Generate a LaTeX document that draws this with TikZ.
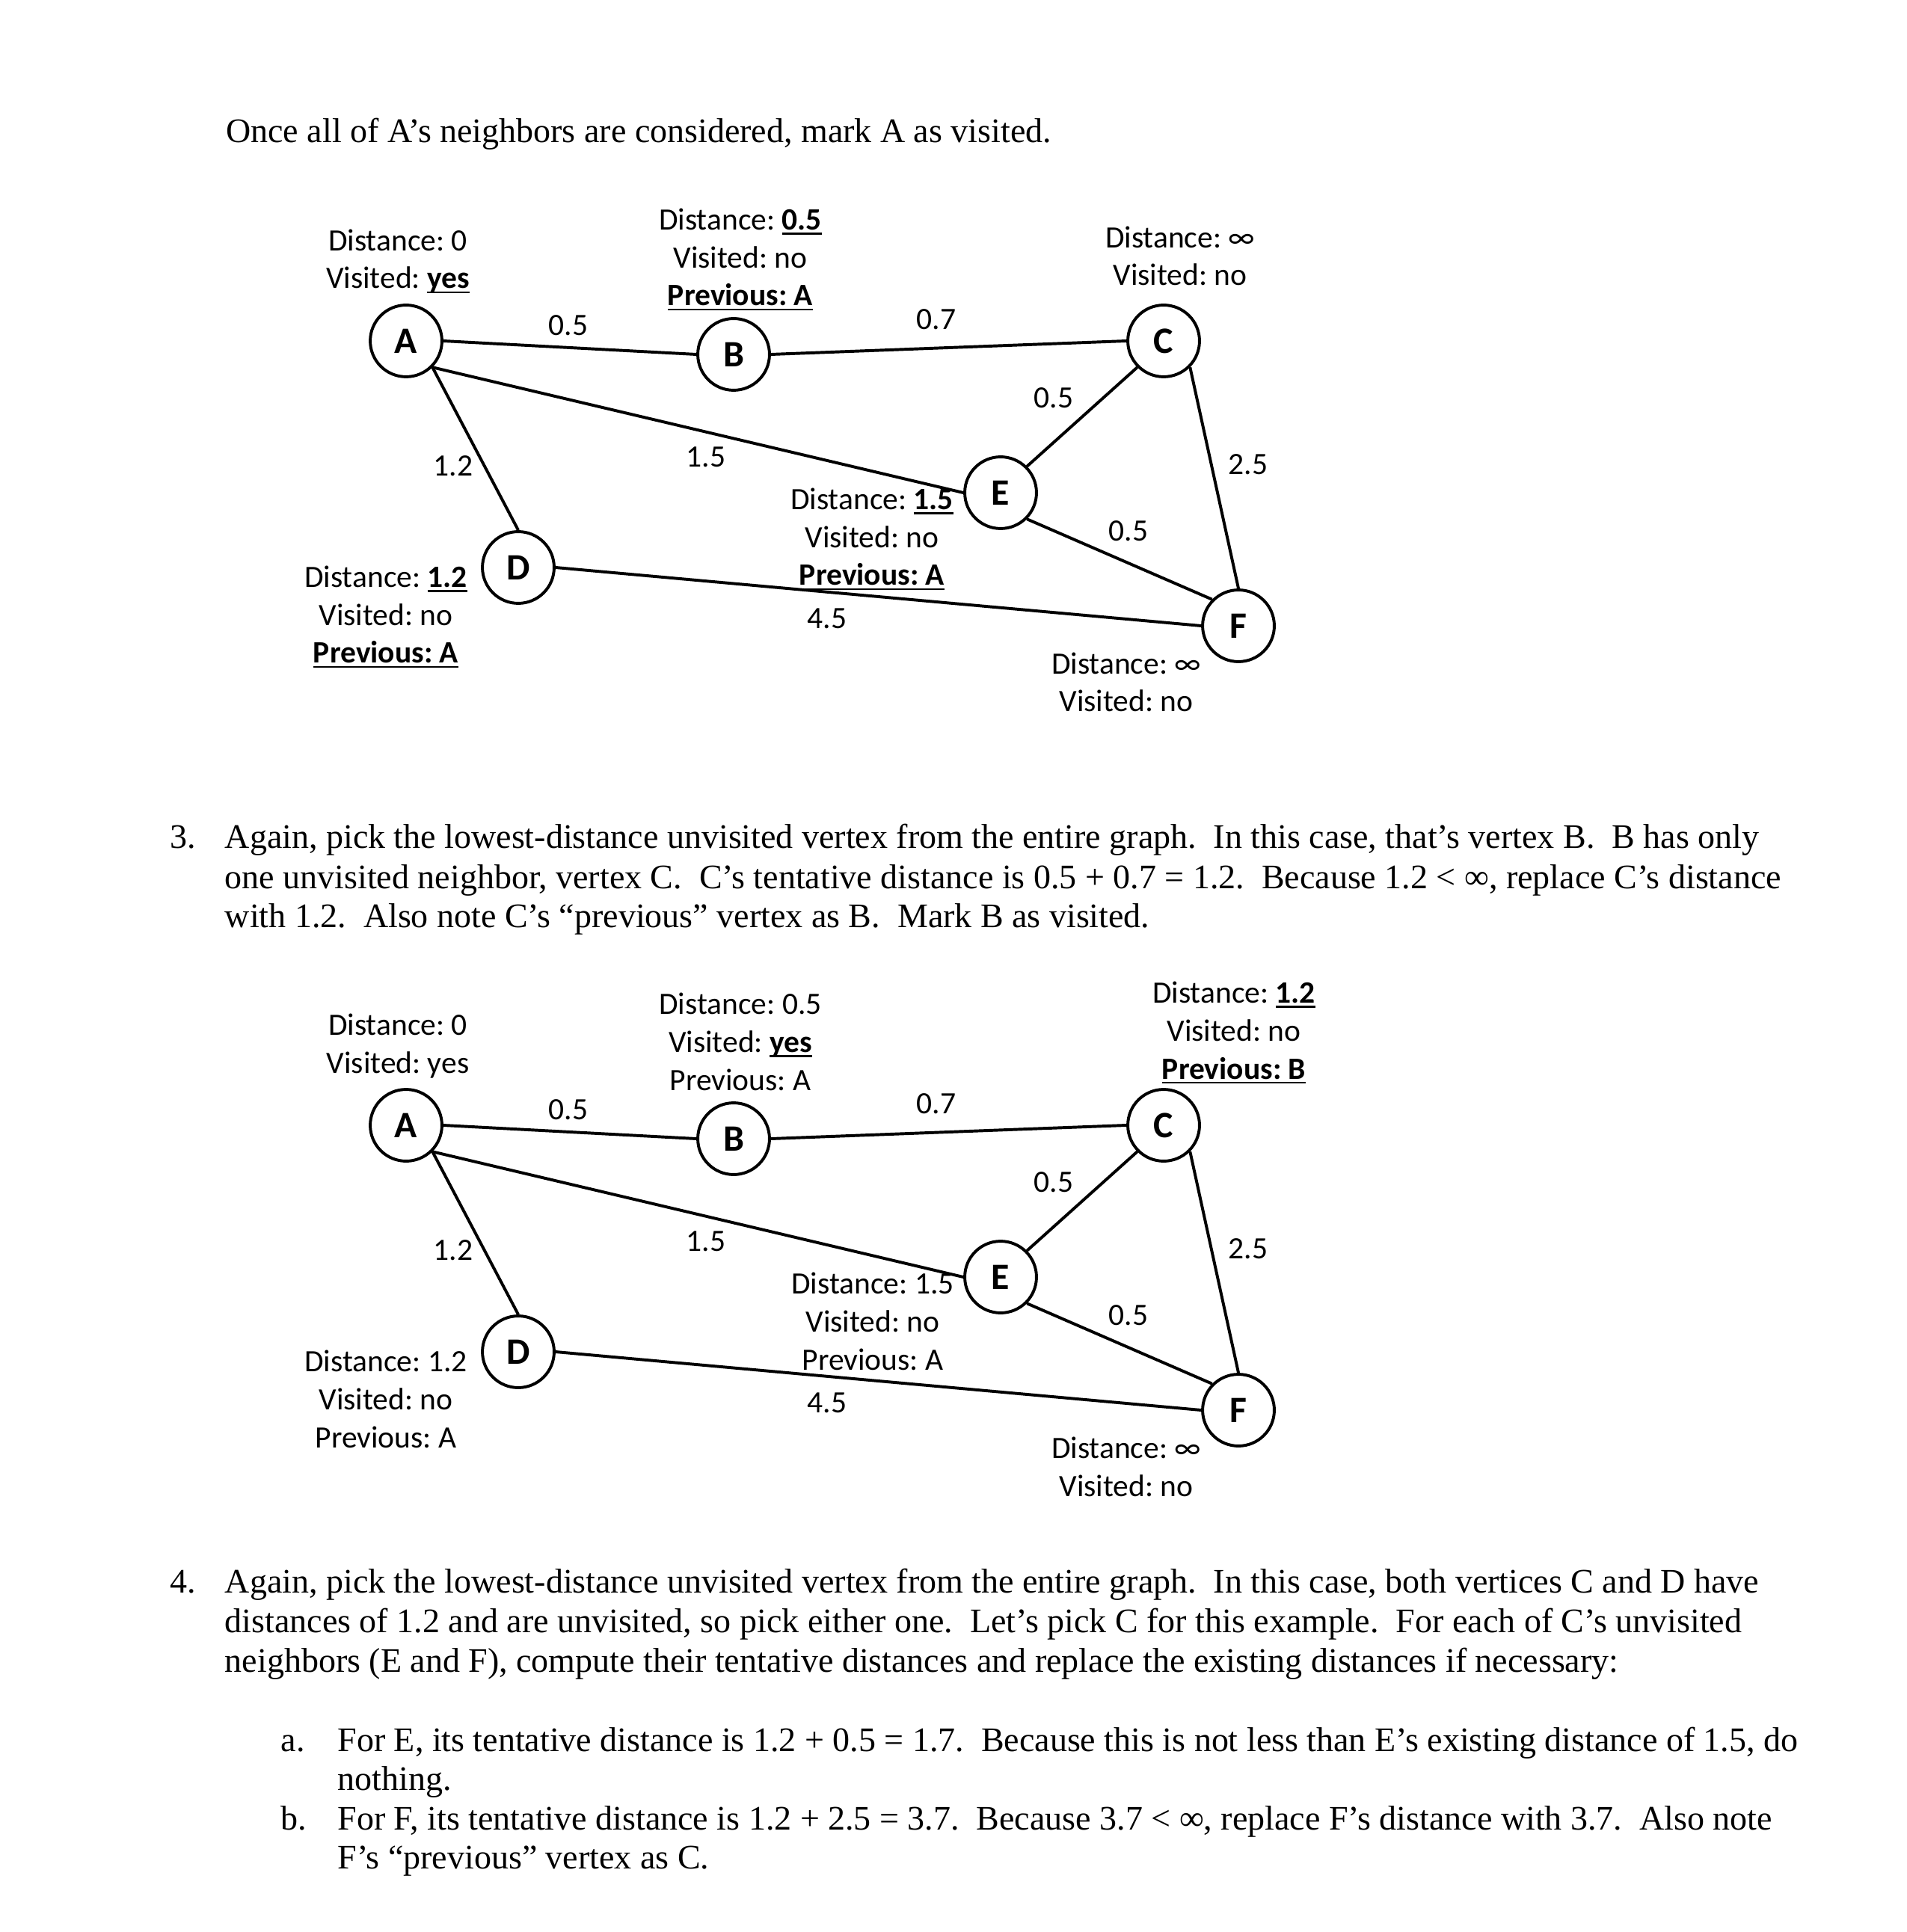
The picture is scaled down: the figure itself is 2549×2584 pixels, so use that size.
\documentclass[tikz,border=0pt]{standalone}
\usepackage{fontspec}
\setmainfont{Liberation Serif}
\newfontfamily\calfont{Carlito}
\newcommand\wul[1]{\setbox0=\hbox{#1}\rlap{\rule[-1.5pt]{\wd0}{0.65pt}}\box0}
\begin{document}
\frenchspacing
\begin{tikzpicture}[x=0.2409pt,y=-0.2409pt,
  vert/.style={circle,draw,line width=0.95pt,minimum size=23.1pt,inner sep=0pt,
    font=\calfont\fontsize{12pt}{14pt}\selectfont\bfseries},
  info/.style={anchor=base,align=center,inner sep=0pt,
    font=\calfont\fontsize{10pt}{12.2pt}\selectfont},
  wt/.style={inner sep=0pt,font=\calfont\fontsize{10pt}{12pt}\selectfont},
  link/.style={line width=0.95pt},
  body/.style={anchor=base west,inner sep=0pt,font=\fontsize{11.08pt}{12.77pt}\selectfont}]
\fill[white] (0,0) rectangle (2549,2584);
\useasboundingbox (0,0) rectangle (2549,2584);

% ---------- intro line ----------
\node[body] (t0) at (301.5,191) {Once all of A’s neighbors are considered, mark A as visited.};

% ---------- graph 1 ----------
\node[vert] (A1) at (543,456) {A};
\node[vert] (B1) at (981,474) {B};
\node[vert] (C1) at (1556,456) {C};
\node[vert] (E1) at (1338,659) {E};
\node[vert] (D1) at (693,759) {D};
\node[vert] (F1) at (1656,837) {F};
\draw[link] (A1.east) -- (B1.west);
\draw[link] (B1.east) -- (C1.west);
\draw[link] (A1.south east) -- (D1.north);
\draw[link] (A1.south east) -- (E1.west);
\draw[link] (C1.south west) -- (E1.north east);
\draw[link] (C1.south east) -- (F1.north);
\draw[link] (E1.south east) -- (F1.north west);
\draw[link] (D1.east) -- (F1.west);
\node[wt] (w1ab) at (760,435) {0.5};
\node[wt] (w1bc) at (1252,427) {0.7};
\node[wt] (w1ad) at (606,623) {1.2};
\node[wt] (w1ae) at (944,611) {1.5};
\node[wt] (w1ce) at (1409,532) {0.5};
\node[wt] (w1cf) at (1669,621) {2.5};
\node[wt] (w1ef) at (1509,710) {0.5};
\node[wt] (w1df) at (1106,827) {4.5};
\node[info] (i1a) at (532,386) {Distance: 0\\Visited: \wul{\bfseries yes}};
\node[info] (i1b) at (990,409) {Distance: \wul{\bfseries 0.5}\\Visited: no\\\wul{\bfseries Previous: A}};
\node[info] (i1c) at (1578,382) {Distance: ∞\\Visited: no};
\node[info] (i1e) at (1166,783) {Distance: \wul{\bfseries 1.5}\\Visited: no\\\wul{\bfseries Previous: A}};
\node[info] (i1d) at (516,887) {Distance: \wul{\bfseries 1.2}\\Visited: no\\\wul{\bfseries Previous: A}};
\node[info] (i1f) at (1506,952) {Distance: ∞\\Visited: no};

% ---------- step 3 ----------
\node[body] (n3) at (226.7,1134) {3.};
\node[body] (p3a) at (300,1134) {Again, pick the lowest-distance unvisited vertex from the entire graph.\ \ In this case, that’s vertex B.\ \ B has only};
\node[body] (p3b) at (300,1188) {one unvisited neighbor, vertex C.\ \ C’s tentative distance is 0.5 + 0.7 = 1.2.\ \ Because 1.2 < ∞, replace C’s distance};
\node[body] (p3c) at (300,1240) {with 1.2.\ \ Also note C’s “previous” vertex as B.\ \ Mark B as visited.};

% ---------- graph 2 ----------
\node[vert] (A2) at (543,1505) {A};
\node[vert] (B2) at (981,1523) {B};
\node[vert] (C2) at (1556,1505) {C};
\node[vert] (E2) at (1338,1708) {E};
\node[vert] (D2) at (693,1808) {D};
\node[vert] (F2) at (1656,1886) {F};
\draw[link] (A2.east) -- (B2.west);
\draw[link] (B2.east) -- (C2.west);
\draw[link] (A2.south east) -- (D2.north);
\draw[link] (A2.south east) -- (E2.west);
\draw[link] (C2.south west) -- (E2.north east);
\draw[link] (C2.south east) -- (F2.north);
\draw[link] (E2.south east) -- (F2.north west);
\draw[link] (D2.east) -- (F2.west);
\node[wt] (w2ab) at (760,1484) {0.5};
\node[wt] (w2bc) at (1252,1476) {0.7};
\node[wt] (w2ad) at (606,1672) {1.2};
\node[wt] (w2ae) at (944,1660) {1.5};
\node[wt] (w2ce) at (1409,1581) {0.5};
\node[wt] (w2cf) at (1669,1670) {2.5};
\node[wt] (w2ef) at (1509,1759) {0.5};
\node[wt] (w2df) at (1106,1876) {4.5};
\node[info] (i2a) at (532,1435) {Distance: 0\\Visited: yes};
\node[info] (i2b) at (990,1458) {Distance: 0.5\\Visited: \wul{\bfseries yes}\\Previous: A};
\node[info] (i2c) at (1650,1443) {Distance: \wul{\bfseries 1.2}\\Visited: no\\\wul{\bfseries Previous: B}};
\node[info] (i2e) at (1167,1832) {Distance: 1.5\\Visited: no\\Previous: A};
\node[info] (i2d) at (516,1936) {Distance: 1.2\\Visited: no\\Previous: A};
\node[info] (i2f) at (1506,2001) {Distance: ∞\\Visited: no};

% ---------- step 4 ----------
\node[body] (n4) at (226.7,2130) {4.};
\node[body] (p4a) at (300,2130) {Again, pick the lowest-distance unvisited vertex from the entire graph.\ \ In this case, both vertices C and D have};
\node[body] (p4b) at (300,2183) {distances of 1.2 and are unvisited, so pick either one.\ \ Let’s pick C for this example.\ \ For each of C’s unvisited};
\node[body] (p4c) at (300,2236) {neighbors (E and F), compute their tentative distances and replace the existing distances if necessary:};

\node[body] (la) at (375,2342) {a.};
\node[body] (pa1) at (450.7,2342) {For E, its tentative distance is 1.2 + 0.5 = 1.7.\ \ Because this is not less than E’s existing distance of 1.5, do};
\node[body] (pa2) at (450.7,2394) {nothing.};
\node[body] (lb) at (375,2447) {b.};
\node[body] (pb1) at (450.7,2447) {For F, its tentative distance is 1.2 + 2.5 = 3.7.\ \ Because 3.7 < ∞, replace F’s distance with 3.7.\ \ Also note};
\node[body] (pb2) at (450.7,2499) {F’s “previous” vertex as C.};
\end{tikzpicture}
\end{document}
